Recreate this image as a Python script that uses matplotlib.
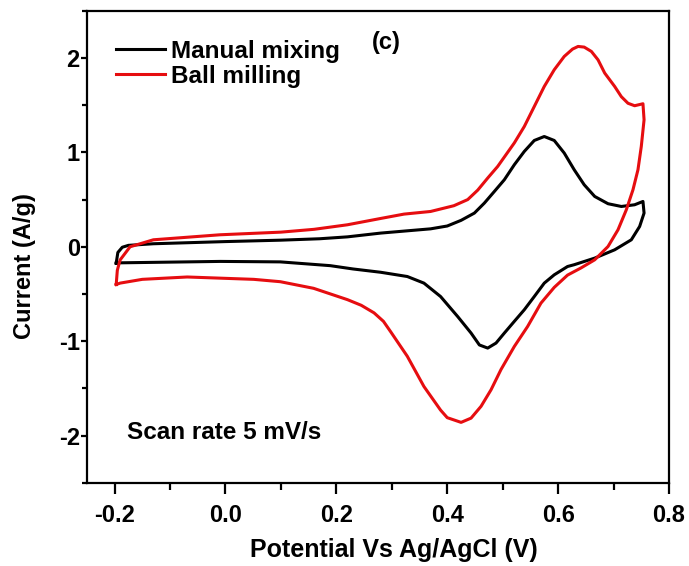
import matplotlib
matplotlib.use('Agg')
import matplotlib.pyplot as plt
from matplotlib.ticker import MultipleLocator

# Manual mixing CV loop (forward scan, then reverse scan)
manual_v = [-0.197, -0.194, -0.186, -0.175, -0.13, 0.0, 0.10, 0.17, 0.22, 0.28, 0.31, 0.34, 0.37,
            0.40, 0.425, 0.449, 0.467, 0.485, 0.503, 0.521, 0.539, 0.557, 0.575, 0.593, 0.611,
            0.629, 0.647, 0.666, 0.69, 0.714, 0.738, 0.753,
            0.755, 0.747, 0.732, 0.702, 0.666, 0.629, 0.617, 0.593, 0.575, 0.557, 0.539, 0.521,
            0.503, 0.488, 0.473, 0.458, 0.443, 0.419, 0.388, 0.358, 0.328, 0.28, 0.23, 0.189, 0.099,
            -0.009, -0.19, -0.197]
manual_i = [-0.173, -0.06, -0.005, 0.015, 0.032, 0.055, 0.07, 0.085, 0.105, 0.145, 0.16, 0.175, 0.19,
            0.22, 0.28, 0.357, 0.463, 0.586, 0.71, 0.869, 1.01, 1.126, 1.168, 1.126, 0.993,
            0.816, 0.657, 0.533, 0.456, 0.427, 0.445, 0.48,
            0.357, 0.215, 0.074, -0.032, -0.12, -0.19, -0.209, -0.297, -0.385, -0.527, -0.667, -0.79,
            -0.914, -1.02, -1.073, -1.04, -0.914, -0.74, -0.527, -0.385, -0.315, -0.27, -0.235, -0.20,
            -0.16, -0.155, -0.17, -0.173]

# Ball milling CV loop
ball_v = [-0.197, -0.195, -0.19, -0.172, -0.13, -0.01, 0.10, 0.16, 0.22, 0.28, 0.322, 0.37,
          0.412, 0.437, 0.455, 0.473, 0.491, 0.521, 0.539, 0.557, 0.575, 0.593, 0.611, 0.626,
          0.636, 0.647, 0.66, 0.672, 0.684, 0.702, 0.714, 0.726, 0.738, 0.753,
          0.755, 0.75, 0.744, 0.735, 0.723, 0.708, 0.69, 0.666, 0.641, 0.617, 0.593, 0.569,
          0.545, 0.521, 0.497, 0.479, 0.461, 0.443, 0.425, 0.40, 0.388, 0.358, 0.328, 0.298,
          0.285, 0.268, 0.245, 0.22, 0.159, 0.099, 0.051, -0.069, -0.15, -0.19, -0.197]
ball_i = [-0.40, -0.25, -0.14, 0.0, 0.074, 0.127, 0.155, 0.185, 0.233, 0.30, 0.346, 0.374,
          0.435, 0.50, 0.60, 0.728, 0.851, 1.10, 1.274, 1.486, 1.698, 1.875, 2.016, 2.094,
          2.122, 2.115, 2.069, 1.98, 1.84, 1.698, 1.59, 1.52, 1.494, 1.515,
          1.345, 1.063, 0.816, 0.604, 0.392, 0.18, 0.003, -0.138, -0.225, -0.30, -0.43, -0.597,
          -0.844, -1.056, -1.30, -1.515, -1.69, -1.815, -1.86, -1.81, -1.73, -1.48, -1.16, -0.90,
          -0.79, -0.70, -0.62, -0.56, -0.44, -0.37, -0.345, -0.32, -0.345, -0.385, -0.40]

plt.rcParams['font.family'] = ['Liberation Sans', 'DejaVu Sans']
plt.rcParams['font.weight'] = 'bold'
plt.rcParams['axes.unicode_minus'] = False

fig = plt.figure(figsize=(6.89, 5.66), dpi=100)
ax = fig.add_axes([0.126, 0.147, 0.845, 0.834])

ax.plot(manual_v, manual_i, color='black', lw=2.2, label='Manual mixing', solid_joinstyle='round')
ax.plot(ball_v, ball_i, color='#e60d10', lw=2.2, label='Ball milling', solid_joinstyle='round')

ax.set_xlim(-0.25, 0.8)
ax.set_ylim(-2.5, 2.5)
ax.set_xticks([-0.2, 0.0, 0.2, 0.4, 0.6, 0.8])
ax.set_yticks([-2, -1, 0, 1, 2])
ax.xaxis.set_minor_locator(MultipleLocator(0.1))
ax.yaxis.set_minor_locator(MultipleLocator(0.5))
ax.tick_params(which='both', direction='out', width=1.6, labelsize=17, top=False, right=False)
ax.tick_params(axis='x', which='major', length=8, pad=7)
ax.tick_params(axis='x', which='minor', length=5)
ax.tick_params(axis='y', which='major', length=4.5, pad=0.5)
ax.tick_params(axis='y', which='minor', length=3.5)
for s in ax.spines.values():
    s.set_linewidth(1.6)

ax.set_xlabel('Potential Vs Ag/AgCl (V)', fontsize=18, fontweight='bold')
ax.xaxis.set_label_coords(0.527, -0.117)
ax.set_ylabel('Current (A/g)', fontsize=17, fontweight='bold')
ax.yaxis.set_label_coords(-0.088, 0.46)

ax.legend(loc='upper left', frameon=False, fontsize=17.5, handlelength=2.0, handletextpad=0.25,
          labelspacing=0.07, borderaxespad=0.5, borderpad=0.7)
ax.text(0.515, 0.932, '(c)', transform=ax.transAxes, fontsize=17, fontweight='bold',
        ha='center', va='center')
ax.text(0.069, 0.106, 'Scan rate 5 mV/s', transform=ax.transAxes, fontsize=17.5,
        fontweight='bold', ha='left', va='center')

fig.savefig('out.png', dpi=100)
